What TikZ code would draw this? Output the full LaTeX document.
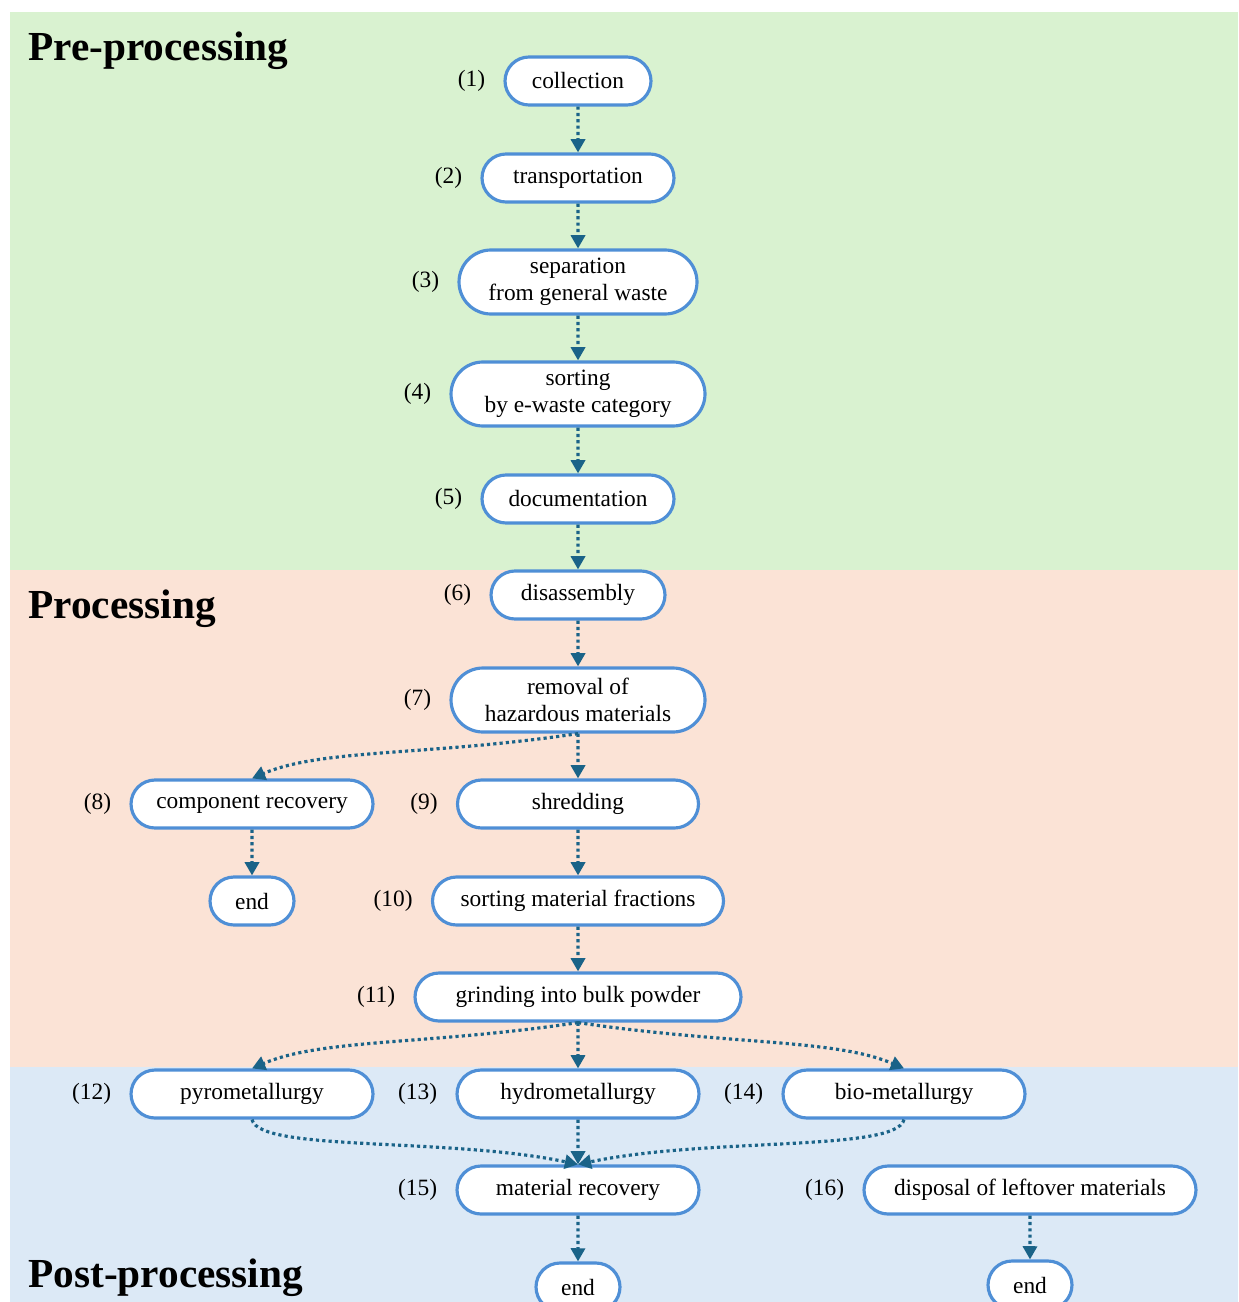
\documentclass[tikz,border=0pt]{standalone}
\usepackage{fontspec}
\setmainfont{Liberation Serif}
\usetikzlibrary{arrows.meta,positioning,shapes.misc}
\definecolor{prec}{HTML}{D9F2D0}
\definecolor{procc}{HTML}{FBE3D6}
\definecolor{postc}{HTML}{DCE9F6}
\definecolor{edgec}{HTML}{4F8FD6}
\definecolor{arrc}{HTML}{1A6388}

\begin{document}
\begin{tikzpicture}[font=\fontsize{13.3}{15.4}\selectfont,>={Triangle[length=7.5pt,width=8pt]},stage/.style={rounded rectangle,draw=edgec,fill=white,line width=1.8pt,minimum height=.96cm,minimum width=#1,align=center,inner sep=2pt},stage/.default=4.98cm,two/.style={minimum height=1.28cm},num/.style={inner sep=0pt},arr/.style={->,draw=arrc,line width=1.8pt,dash pattern=on 1.8pt off 1.8pt},ttl/.style={anchor=west,inner sep=0pt,font=\fontsize{23.5}{28}\selectfont\bfseries}]
\useasboundingbox (0,0) rectangle (24.76,-26.04);
% the three bands
\fill[prec] (.2,-.24) rectangle (24.76,-11.4);
\fill[procc] (.2,-11.4) rectangle (24.76,-21.34);
\fill[postc] (.2,-21.34) rectangle (24.76,-26.04);
\node[ttl] (tpre) at (.56,-1.02) {Pre-processing};
\node[ttl] (tproc) at (.56,-12.18) {Processing};
\node[ttl] (tpost) at (.56,-25.56) {Post-processing};
% stages
\node[stage=3.06cm] (n1) at (11.56,-1.62) {collection};
\node[stage=3.98cm] (n2) at (11.56,-3.56) {transportation};
\node[stage=4.9cm,two] (n3) at (11.56,-5.64) {separation\\from general waste};
\node[stage=5.22cm,two] (n4) at (11.56,-7.88) {sorting\\by e-waste category};
\node[stage=3.98cm] (n5) at (11.56,-9.98) {documentation};
\node[stage=3.62cm] (n6) at (11.56,-11.9) {disassembly};
\node[stage=5.22cm,two] (n7) at (11.56,-14) {removal of\\hazardous materials};
\node[stage] (n8) at (5.04,-16.08) {component recovery};
\node[stage=4.96cm] (n9) at (11.56,-16.08) {shredding};
\node[stage=1.82cm] (e8) at (5.04,-18.02) {end};
\node[stage=5.96cm] (n10) at (11.56,-18.02) {sorting material fractions};
\node[stage=6.66cm] (n11) at (11.56,-19.94) {grinding into bulk powder};
\node[stage] (n12) at (5.04,-21.88) {pyrometallurgy};
\node[stage] (n13) at (11.56,-21.88) {hydrometallurgy};
\node[stage] (n14) at (18.08,-21.88) {bio-metallurgy};
\node[stage] (n15) at (11.56,-23.8) {material recovery};
\node[stage=6.78cm] (n16) at (20.6,-23.8) {disposal of leftover materials};
\node[stage=1.82cm] (e15) at (11.56,-25.74) {end};
\node[stage=1.82cm] (e16) at (20.6,-25.7) {end};
\foreach \i in {1,...,16} \node[num,left=.36cm of n\i] (l\i) {(\i)};
% flow
\foreach \a/\b in {n1/n2,n2/n3,n3/n4,n4/n5,n5/n6,n6/n7,n7/n9,n9/n10,n8/e8,n10/n11,n11/n13,n13/n15,n15/e15,n16/e16} \draw[arr] (\a)--(\b);
\draw[arr] (n7.south) .. controls +(-3,-.45) and +(1.4,.6) .. (n8.north);
\draw[arr] (n11.south) .. controls +(-3,-.45) and +(1.4,.6) .. (n12.north);
\draw[arr] (n11.south) .. controls +(3,-.45) and +(-1.4,.6) .. (n14.north);
\draw[arr] (n12.south) .. controls +(.15,-.65) and +(-2.6,.55) .. (n15.north);
\draw[arr] (n14.south) .. controls +(-.15,-.65) and +(2.6,.55) .. (n15.north);
\end{tikzpicture}
\end{document}
